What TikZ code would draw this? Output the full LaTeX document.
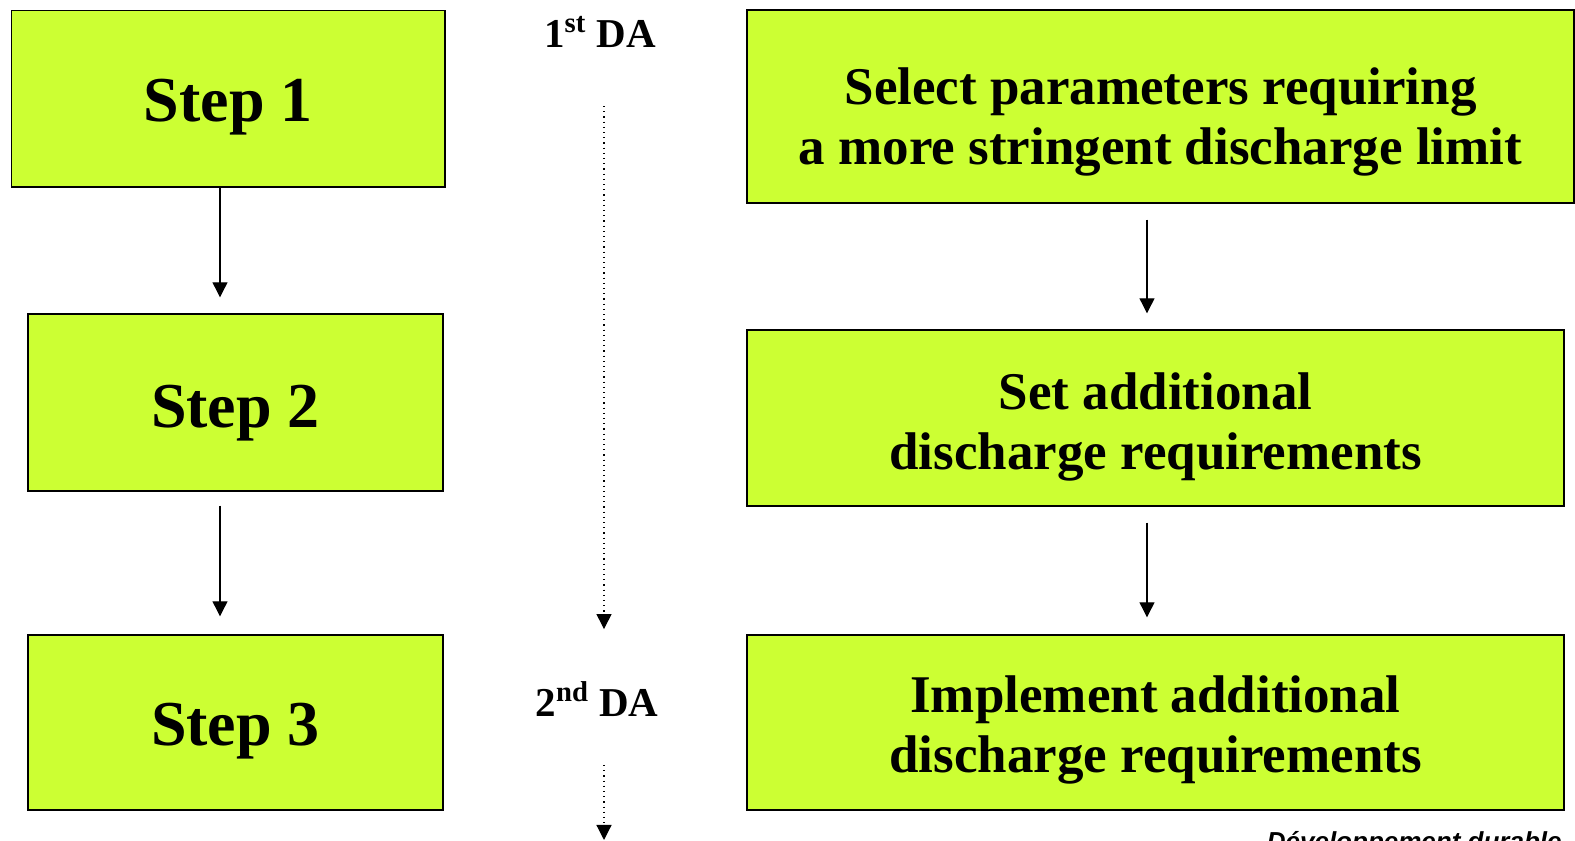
\documentclass[tikz,border=0pt]{standalone}
\usepackage{fontspec}
\setmainfont{Liberation Serif}
\newfontfamily\notefont{Liberation Sans}
\usetikzlibrary{arrows.meta}

\begin{document}
\begin{tikzpicture}[x=1pt,y=1pt, every node/.style={inner sep=0pt},
  stepbox/.style={draw=black, fill=boxfill, line width=0.7pt, align=center, anchor=center,
    font=\bfseries\fontsize{32}{38}\selectfont},
  taskbox/.style={draw=black, fill=boxfill, line width=0.7pt, align=center, anchor=center,
    font=\bfseries\fontsize{26.5}{30}\selectfont},
  dalabel/.style={anchor=center, font=\bfseries\fontsize{20.5}{24}\selectfont},
  arr/.style={line width=0.6pt, -{Triangle[length=7.5pt,width=7.5pt]}},
  dotarr/.style={line width=0.6pt, dotted, -{Triangle[length=7.5pt,width=7.5pt]}}]
\definecolor{boxfill}{HTML}{CCFF33}
\newcommand\lowtext[2][4pt]{\raisebox{-#1}[\height][\depth]{\begin{tabular}{@{}c@{}}#2\end{tabular}}}
\useasboundingbox (0pt,0pt) rectangle (787.5pt,420.5pt);
% left column
\node[stepbox, minimum width=216.7pt, minimum height=88.2pt] (s1) at (114.2pt,371.1pt) {\lowtext{Step 1}};
\node[stepbox, minimum width=207.5pt, minimum height=88.5pt] (s2) at (117.75pt,219.25pt) {\lowtext[5pt]{Step 2}};
\node[stepbox, minimum width=207.5pt, minimum height=87.5pt] (s3) at (117.75pt,59.25pt) {\lowtext{Step 3}};
\draw[arr] ([xshift=-4.2pt]s1.south) -- ([xshift=-7.75pt,yshift=8pt]s2.north);
\draw[arr] ([xshift=-7.75pt,yshift=-7pt]s2.south) -- ([xshift=-7.75pt,yshift=9pt]s3.north);
% middle column
\node[dalabel] (da1) at (300pt,404.5pt) {1\textsuperscript{st} DA};
\node[dalabel] (da2) at (298.5pt,71pt) {2\textsuperscript{nd} DA};
\coordinate (flowend) at (302pt,0.5pt);
\draw[dotarr] ([xshift=2pt,yshift=-29pt]da1.south) -- ([xshift=3.5pt,yshift=26pt]da2.north);
\draw[dotarr] ([xshift=3.5pt,yshift=-24pt]da2.south) -- (flowend);
% right column
\node[taskbox, minimum width=413.5pt, minimum height=96.5pt] (t1) at (580.25pt,367.25pt) {\lowtext[8pt]{Select parameters requiring\\a more stringent discharge limit}};
\node[taskbox, minimum width=408.5pt, minimum height=88pt] (t2) at (577.75pt,211.5pt) {\lowtext[5pt]{Set additional\\discharge requirements}};
\node[taskbox, minimum width=408.5pt, minimum height=87.5pt] (t3) at (577.75pt,59.25pt) {\lowtext{Implement additional\\discharge requirements}};
\draw[arr] ([xshift=-6.75pt,yshift=-8pt]t1.south) -- ([xshift=-4.25pt,yshift=8pt]t2.north);
\draw[arr] ([xshift=-4.25pt,yshift=-8pt]t2.south) -- ([xshift=-4.25pt,yshift=8.5pt]t3.north);
% footer
\node[anchor=base east, font=\notefont\bfseries\itshape\fontsize{13}{15}\selectfont] (foot) at (781pt,-5pt) {Développement durable};
\end{tikzpicture}
\end{document}
